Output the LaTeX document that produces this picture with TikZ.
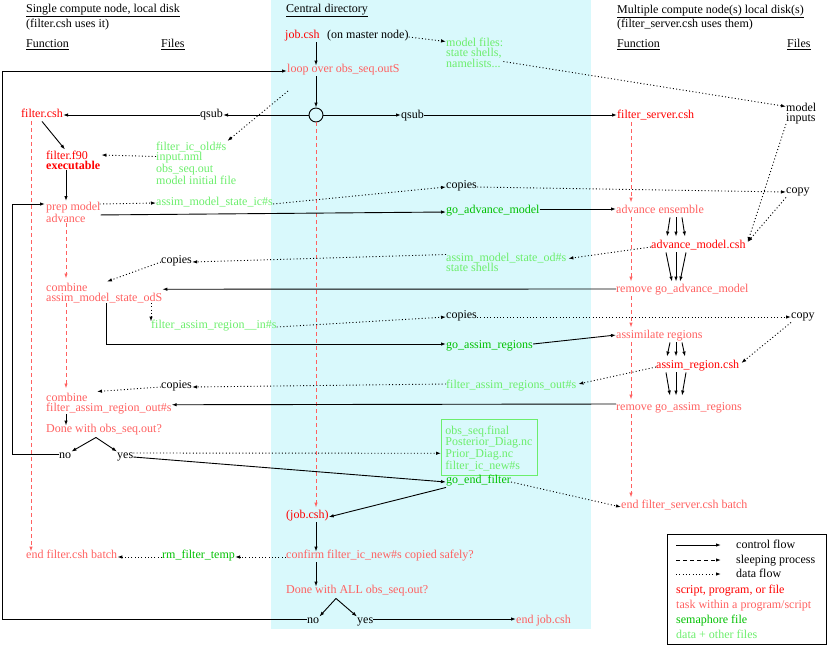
\documentclass[tikz,border=0pt]{standalone}
\usepackage{fontspec}
\setmainfont{Liberation Serif}
\usetikzlibrary{arrows.meta,calc}
\definecolor{cbg}{HTML}{D9F9FC}
\definecolor{cscr}{HTML}{FF0000}
\definecolor{ctsk}{HTML}{FF6060}
\definecolor{csem}{HTML}{00C000}
\definecolor{cdat}{HTML}{6CEE6C}
\newcommand\firstup{\rule{0pt}{9.5pt}}
\tikzset{
  every node/.style={font=\fontsize{12}{10}\selectfont},
  lbl/.style={anchor=west, inner sep=0pt, text height=6.5pt, text depth=4pt},
  mlbl/.style={anchor=north west, inner sep=0pt, align=left},
  tip/.style={-{Latex[length=5pt,width=3.5pt]}},
  flow/.style={line width=0.9pt, tip},
  dataline/.style={line width=0.9pt, dash pattern=on 1pt off 2.3pt, tip},
  sleep/.style={line width=0.9pt, draw=ctsk, dash pattern=on 4pt off 3pt, tip},
}
\begin{document}
\begin{tikzpicture}[x=1pt,y=-1pt]
\useasboundingbox (0,0) rectangle (827,646);
\fill[cbg] (271,0) rectangle (591,629);

% headers
\node[lbl] (h1) at (26,11) {\underline{Single compute node, local disk}};
\node[lbl] (h1b) at (26,26) {(filter.csh uses it)};
\node[lbl] (fn1) at (26,46) {\underline{Function}};
\node[lbl] (fl1) at (161,46) {\underline{Files}};
\node[lbl] (h2) at (286,11) {\underline{Central directory}};
\node[lbl] (h3) at (617,12) {\underline{Multiple compute node(s) local disk(s)}};
\node[lbl] (h3b) at (617,26) {(filter\_server.csh uses them)};
\node[lbl] (fn3) at (617,46) {\underline{Function}};
\node[lbl] (fl3) at (787,46) {\underline{Files}};

% central top
\node[lbl,text=cscr] (job) at (285,37) {job.csh};
\node[lbl] (master) at (327,37) {(on master node)};
\node[mlbl,text=cdat] (mfiles) at (446,36.5) {\firstup model files:\\state shells,\\namelists...};
\node[lbl,text=ctsk] (loop) at (287,71) {loop over obs\_seq.outS};
\node[draw,circle,minimum size=14pt,inner sep=0pt,line width=0.9pt] (circ) at (316,115) {};
\node[lbl] (qsubL) at (200,116) {qsub};
\node[lbl] (qsubR) at (401,117) {qsub};
\node[lbl,text=cscr] (fcsh) at (21,116) {filter.csh};
\node[lbl,text=cscr] (fserver) at (617,117) {filter\_server.csh};
\node[mlbl] (minp) at (786,101.5) {\firstup model\\inputs};
\coordinate (icsrc) at (288,91);

% left column
\node[mlbl,text=cscr] (f90) at (46,149.5) {\firstup filter.f90\\\textbf{executable}};
\node[mlbl,text=cdat] (icf) at (156,141) {\firstup filter\_ic\_old\#s\\input.nml\\obs\_seq.out\\model initial file};
\node[mlbl,text=ctsk] (prep) at (46,201) {\firstup prep model\\advance};
\node[lbl,text=cdat] (stic) at (156,204) {assim\_model\_state\_ic\#s};
\node[lbl] (cp1) at (446,187) {copies};
\node[lbl] (cy1) at (786,192) {copy};
\node[lbl,text=csem] (goadv) at (446,212) {go\_advance\_model};
\node[lbl,text=ctsk] (advens) at (616,212) {advance ensemble};
\node[lbl,text=cscr] (amcsh) at (651,247) {advance\_model.csh};
\node[mlbl,text=cdat] (stod) at (446,251.5) {\firstup assim\_model\_state\_od\#s\\state shells};
\node[lbl] (cp2) at (161,262) {copies};
\node[mlbl,text=ctsk] (comb1) at (46,281.5) {\firstup combine\\assim\_model\_state\_odS};
\node[lbl,text=ctsk] (rmadv) at (616,291) {remove go\_advance\_model};
\node[lbl,text=cdat] (regin) at (151,327) {filter\_assim\_region\_\_in\#s};
\node[lbl] (cp3) at (446,317) {copies};
\node[lbl] (cy2) at (791,317) {copy};
\node[lbl,text=csem] (goas) at (446,347) {go\_assim\_regions};
\node[lbl,text=ctsk] (asreg) at (616,337) {assimilate regions};
\node[lbl,text=cscr] (arcsh) at (656,367) {assim\_region.csh};
\node[lbl,text=cdat] (regout) at (446,387) {filter\_assim\_regions\_out\#s};
\node[lbl] (cp4) at (161,387) {copies};
\node[mlbl,text=ctsk] (comb2) at (46,391.5) {\firstup combine\\filter\_assim\_region\_out\#s};
\node[lbl,text=ctsk] (rmas) at (616,409) {remove go\_assim\_regions};
\node[lbl,text=ctsk] (done1) at (46,431) {Done with obs\_seq.out?};
\node[lbl] (no1) at (59,457) {no};
\node[lbl] (yes1) at (117,457) {yes};
\node[draw=cdat,line width=0.9pt,text=cdat,align=left,anchor=north west,inner sep=4pt,text width=88pt] (obs) at (441,419) {\rule{0pt}{11pt}obs\_seq.final\\Posterior\_Diag.nc\\Prior\_Diag.nc\\filter\_ic\_new\#s};
\node[lbl,text=csem] (goend) at (446,482) {go\_end\_filter};
\node[lbl,text=cscr] (job2) at (286,517) {(job.csh)};
\node[lbl,text=ctsk] (endsrv) at (621,507) {end filter\_server.csh batch};
\node[lbl,text=ctsk] (conf) at (286,557) {confirm filter\_ic\_new\#s copied safely?};
\node[lbl,text=csem] (rmtmp) at (162,557) {rm\_filter\_temp};
\node[lbl,text=ctsk] (endflt) at (26,557) {end filter.csh batch};
\node[lbl,text=ctsk] (doneall) at (286,592) {Done with ALL obs\_seq.out?};
\node[lbl] (no2) at (307,622) {no};
\node[lbl] (yes2) at (357,622) {yes};
\node[lbl,text=ctsk] (endjob) at (516,622) {end job.csh};

% legend
\node[draw,line width=0.9pt,minimum width=159pt,minimum height=110pt,anchor=north west,inner sep=0pt] (legend) at (667,534) {};
\node[lbl] (lg1) at (736,547) {control flow};
\node[lbl] (lg2) at (736,562) {sleeping process};
\node[lbl] (lg3) at (736,576) {data flow};
\node[lbl,text=cscr] (lg4) at (676,592) {script, program, or file};
\node[lbl,text=ctsk] (lg5) at (676,607) {task within a program/script};
\node[lbl,text=csem] (lg6) at (676,622) {semaphore file};
\node[lbl,text=cdat] (lg7) at (676,637) {data + other files};
\draw[flow] ([xshift=-60pt,yshift=2pt]lg1.west) -- ([xshift=-15pt,yshift=2pt]lg1.west);
\draw[sleep,draw=black] ([xshift=-60pt,yshift=2pt]lg2.west) -- ([xshift=-15pt,yshift=2pt]lg2.west);
\draw[dataline] ([xshift=-60pt,yshift=2pt]lg3.west) -- ([xshift=-15pt,yshift=2pt]lg3.west);

% central spine
\draw[flow] (circ |- job.south) -- (circ |- loop.north);
\draw[flow] (circ |- loop.south) -- (circ.north);
\draw[flow] (circ.east) -- (qsubR.west |- circ.east);
\draw[flow] (qsubR.east |- circ.east) -- (fserver.west |- circ.east);
\draw[flow] (circ.west) -- (qsubL.east |- circ.west);
\draw[flow] (qsubL.west |- circ.west) -- (fcsh.east |- circ.west);
\draw[dataline] (master.east) -- ([yshift=-5pt]mfiles.north west);
\draw[dataline] ([yshift=-25pt]mfiles.north east) -- ([yshift=-5pt]minp.north west);
\draw[dataline] (icsrc) -- ([xshift=-9pt]icf.north east);
\draw[sleep] (circ.south) -- ($(circ |- job2.north)+(0,-4)$);
\draw[flow] (circ |- job2.south) -- (circ |- conf.north);
\draw[flow] (circ |- conf.south) -- (circ |- doneall.north);
\coordinate (ap2) at ([xshift=50pt,yshift=-1pt]doneall.south west);
\draw[flow] (ap2) -- (no2.north east);
\draw[flow] (ap2) -- (yes2.north west);
\draw[flow] ([yshift=3pt]yes2.east) -- ([yshift=3pt]endjob.west);
\draw[flow] ([yshift=3pt]no2.west) -- ++(-305pt,0) |- (loop.west);
\draw[dataline] (conf.west) -- (rmtmp.east);
\draw[dataline] (rmtmp.west) -- (endflt.east);

% left column connectors
\draw[flow] (fcsh.south) -- ([xshift=19pt]f90.north west);
\draw[dataline] ([yshift=-15.5pt]icf.north west) -- ([xshift=1pt,yshift=-5.5pt]f90.north east);
\draw[flow] ([xshift=20pt]f90.south west) -- ([xshift=20pt]prep.north west);
\draw[sleep] ([xshift=10pt]fcsh.south west) -- ([xshift=5pt]endflt.north west);
\draw[sleep] ([xshift=20pt]prep.south west) -- ([xshift=20pt,yshift=3pt]comb1.north west);
\draw[sleep] ([xshift=20pt]comb1.south west) -- ([xshift=20pt,yshift=3pt]comb2.north west);
\draw[flow] ([xshift=20pt]comb2.south west) -- ([xshift=20pt]done1.north west);
\coordinate (ap1) at ([xshift=50pt,yshift=-1pt]done1.south west);
\draw[flow] (ap1) -- (no1.north east);
\draw[flow] (ap1) -- (yes1.north west);
\draw[flow] ([yshift=3pt]no1.west) -- ++(-47pt,0) |- ([xshift=-1pt,yshift=-3pt]prep.north west);
\draw[dataline] ([yshift=4pt]yes1.east) -- ([yshift=-6pt]obs.west);
\draw[flow] (yes1.east) -- (goend.west);
\draw[flow] (goend.south west) -- (job2.east);
\draw[dataline] (goend.east) -- (endsrv.west);

\draw[dataline] ([xshift=-1pt,yshift=-3pt]prep.north east) -- ([yshift=1pt]stic.west);
\draw[flow] ([yshift=-3pt]prep.east) -- (goadv.west);
\draw[dataline] (stic.east) -- (cp1.west);
\draw[dataline] (cp1.east) -- (cy1.west);
\draw[flow] ([yshift=3pt]goadv.east) -- ([yshift=3pt]advens.west);
\draw[dataline] (cy1.south west) -- ([xshift=2pt,yshift=5pt]amcsh.east);
\draw[dataline] (minp.south west) -- ([xshift=2pt,yshift=5pt]amcsh.east);
\draw[dataline] (amcsh.west) -- ([xshift=2pt,yshift=3pt]stod.east);
\draw[dataline] ([yshift=-3pt]stod.north west) -- (cp2.east);
\draw[dataline] (cp2.west) -- ([xshift=61pt]comb1.north west);
\draw[flow] ([yshift=2pt]rmadv.west) -- ([yshift=3pt]comb1.east);
\draw[dataline] (comb1.south -| regin.west) -- (regin.north west);
\draw[flow] ([xshift=60pt]comb1.south west) |- ([yshift=3pt]goas.west);
\draw[dataline] (regin.east) -- (cp3.west);
\draw[dataline] (cp3.east) -- (cy2.west);
\draw[flow] ([yshift=3pt]goas.east) -- ([yshift=2pt]asreg.west);
\draw[dataline] (cy2.south west) -- ([xshift=2pt,yshift=4pt]arcsh.east);
\draw[dataline] (arcsh.west) -- ([xshift=2pt,yshift=3pt]regout.east);
\draw[dataline] ([yshift=3pt]regout.west) -- (cp4.east);
\draw[dataline] (cp4.west) -- ([xshift=51pt]comb2.north west);
\draw[flow] ([yshift=5pt]rmas.west) -- ([yshift=-2pt]comb2.east);

% triple arrows
\foreach \a/\b in {54/16,60/25,66/34}
  \draw[flow] ([xshift=\a pt]advens.south west) -- ([xshift=\b pt,yshift=5pt]amcsh.north west);
\foreach \a/\b in {15/56,25/60,35/64}
  \draw[flow] ([xshift=\a pt]amcsh.south west) -- ([xshift=\b pt,yshift=4pt]rmadv.north west);
\foreach \a/\b in {54/11,60/20,66/29}
  \draw[flow] ([xshift=\a pt]asreg.south west) -- ([xshift=\b pt,yshift=5pt]arcsh.north west);
\foreach \a/\b in {10/54,20/60,30/66}
  \draw[flow] ([xshift=\a pt]arcsh.south west) -- ([xshift=\b pt,yshift=8pt]rmas.north west);

% right dashed column
\coordinate (rc) at (631,0);
\draw[sleep] (fserver.south -| rc) -- ($(advens.north -| rc)+(0,-4)$);
\draw[sleep] (advens.south -| rc) -- ($(rmadv.north -| rc)+(0,-4)$);
\draw[sleep] (rmadv.south -| rc) -- ($(asreg.north -| rc)+(0,-4)$);
\draw[sleep] (asreg.south -| rc) -- ($(rmas.north -| rc)+(0,-4)$);
\draw[sleep] (rmas.south -| rc) -- ($(endsrv.north -| rc)+(0,-4)$);
\end{tikzpicture}
\end{document}
